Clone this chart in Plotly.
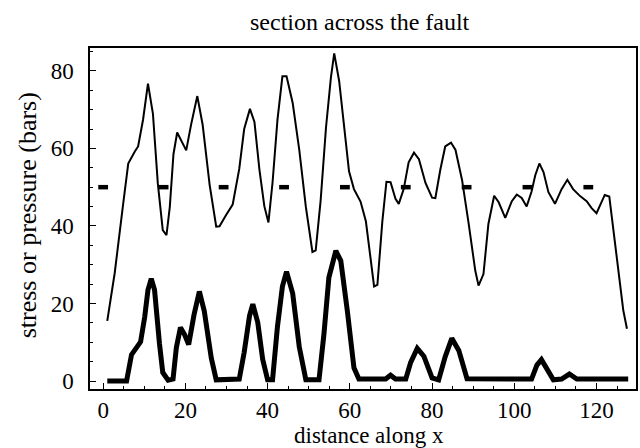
import plotly.graph_objects as go

# ---- data ----
stress_x = [1.0, 2.8, 4.8, 6.1, 7.7, 8.5, 9.7, 10.9, 12.1, 13.3, 14.5, 15.4, 16.2, 17.1, 18.0,
            19.0, 20.2, 21.4, 22.9, 24.2, 25.9, 27.5, 28.3, 29.9, 31.5, 33.1, 34.3, 35.7, 36.8,
            38.0, 39.2, 40.2, 41.2, 42.4, 43.6, 44.6, 46.1, 47.7, 49.3, 50.9, 51.7, 52.9, 54.2,
            55.4, 56.2, 57.4, 58.6, 59.8, 61.0, 62.6, 63.9, 64.7, 65.9, 66.7, 67.9, 68.9, 69.9,
            71.1, 71.9, 73.1, 74.3, 75.6, 76.8, 78.4, 80.0, 80.8, 82.0, 83.2, 84.6, 85.7, 87.3,
            88.9, 90.5, 91.3, 92.5, 93.7, 95.1, 96.2, 97.8, 99.4, 100.6, 101.8, 103.0, 104.2,
            105.1, 106.1, 107.1, 108.3, 109.9, 111.5, 112.9, 114.3, 116.0, 117.6, 118.8, 120.0,
            121.2, 122.0, 123.1, 124.0, 125.3, 126.5, 127.4]
stress_y = [15.5, 27.8, 45.1, 56.1, 59.2, 60.5, 67.4, 76.7, 69.0, 50.9, 38.9, 37.6, 44.8, 58.5, 64.1,
            62.0, 59.5, 66.2, 73.5, 66.1, 50.6, 39.8, 39.9, 42.8, 45.5, 54.7, 65.0, 70.2, 66.8,
            54.6, 45.1, 40.9, 51.2, 67.4, 78.6, 78.6, 71.7, 59.6, 44.9, 33.3, 33.7, 46.6, 65.4,
            78.3, 84.5, 77.4, 65.3, 54.1, 49.5, 46.3, 41.2, 34.3, 24.4, 24.8, 41.1, 51.4, 51.3,
            47.0, 45.7, 49.5, 56.4, 58.9, 57.2, 51.1, 47.3, 47.2, 54.5, 60.5, 61.5, 59.6, 51.8,
            40.6, 28.5, 24.6, 27.6, 40.5, 47.8, 46.1, 42.1, 46.4, 48.1, 47.2, 45.0, 48.9,
            53.1, 56.1, 53.9, 48.7, 45.7, 49.5, 51.9, 49.5, 47.7, 46.4, 44.6, 43.3,
            45.9, 48.0, 47.6, 39.8, 27.7, 18.3, 13.5]

pressure_x = [1.0, 5.7, 6.9, 8.1, 9.1, 10.1, 10.9, 11.7, 12.5, 13.7, 14.5, 15.8, 17.0, 17.8, 18.8,
              19.8, 20.8, 22.1, 23.4, 24.6, 26.3, 27.5, 33.1, 34.3, 35.6, 36.4, 37.6, 38.8, 40.0,
              41.2, 42.4, 43.6, 44.6, 46.1, 47.7, 49.3, 52.5, 53.7, 54.9, 56.6, 57.8, 59.4, 61.0,
              62.2, 68.7, 69.9, 71.1, 73.6, 74.8, 76.4, 78.0, 80.0, 81.6, 83.2, 84.8, 86.5, 88.5,
              104.2, 105.5, 106.6, 108.3, 109.5, 111.5, 113.4, 115.2, 127.7]
pressure_y = [0.0, 0.0, 6.8, 8.9, 10.1, 16.5, 23.5, 26.4, 23.5, 9.6, 2.2, 0.2, 0.5, 8.6, 13.8,
              12.0, 9.4, 17.1, 23.1, 18.0, 5.9, 0.3, 0.5, 7.4, 16.8, 19.8, 15.1, 5.6, 0.3,
              0.3, 14.1, 24.4, 28.2, 22.6, 8.8, 0.3, 0.3, 12.1, 26.7, 33.6, 31.0, 18.0, 3.4,
              0.5, 0.5, 1.5, 0.5, 0.5, 4.8, 8.4, 6.4, 0.8, 0.3, 6.3, 11.0, 7.9, 0.6,
              0.5, 4.1, 5.5, 2.3, 0.3, 0.5, 1.8, 0.5, 0.5]

mark_x = [0.0, 14.7, 29.3, 44.0, 58.8, 73.6, 88.4, 103.2, 118.0]
mark_y = [50, 50, 50, 50, 50, 50, 50, 50, 50]

x_ticks = [0, 20, 40, 60, 80, 100, 120]
y_ticks = [0, 20, 40, 60, 80]

title_text = "section across the fault"
x_label = "distance along x"
y_label = "stress or pressure (bars)"

FONT = "Liberation Serif, Times New Roman, serif"

fig = go.Figure()
fig.add_trace(go.Scatter(x=stress_x, y=stress_y, mode="lines",
                         line=dict(color="black", width=2), hoverinfo="skip"))
fig.add_trace(go.Scatter(x=pressure_x, y=pressure_y, mode="lines",
                         line=dict(color="black", width=5), hoverinfo="skip"))
fig.add_trace(go.Scatter(x=mark_x, y=mark_y, mode="markers",
                         marker=dict(symbol="line-ew", size=7, color="black",
                                     line=dict(color="black", width=4.5)),
                         hoverinfo="skip"))

axis_common = dict(showgrid=False, zeroline=False, showline=True, linecolor="black",
                   linewidth=1.5, mirror=True, ticks="inside", ticklen=6, tickwidth=1.2,
                   tickcolor="black",
                   tickfont=dict(family=FONT, size=23, color="black"),
                   minor=dict(ticks="inside", ticklen=3, tickwidth=1, tickcolor="black", dtick=5))

fig.update_xaxes(range=[-3.2, 129.6], tickvals=x_ticks, ticktext=[str(v) for v in x_ticks],
                 ticklabelstandoff=0, **axis_common)
fig.update_yaxes(range=[-2.06, 85.9], tickvals=y_ticks, ticktext=[str(v) for v in y_ticks],
                 ticklabelstandoff=10, **axis_common)

fig.update_layout(
    width=640, height=448,
    margin=dict(l=90, r=2, t=48, b=59),
    paper_bgcolor="white", plot_bgcolor="white",
    showlegend=False,
    annotations=[
        dict(text=title_text, xref="paper", yref="paper", x=0.4954, y=1.076,
             xanchor="center", yanchor="middle", showarrow=False,
             font=dict(family=FONT, size=24, color="black")),
        dict(text=x_label, xref="paper", yref="paper", x=0.511, y=-0.137,
             xanchor="center", yanchor="middle", showarrow=False,
             font=dict(family=FONT, size=23, color="black")),
        dict(text=y_label, xref="paper", yref="paper", x=-0.115, y=0.51,
             xanchor="center", yanchor="middle", showarrow=False, textangle=-90,
             font=dict(family=FONT, size=26, color="black")),
    ],
)

fig.write_html("out.html")
